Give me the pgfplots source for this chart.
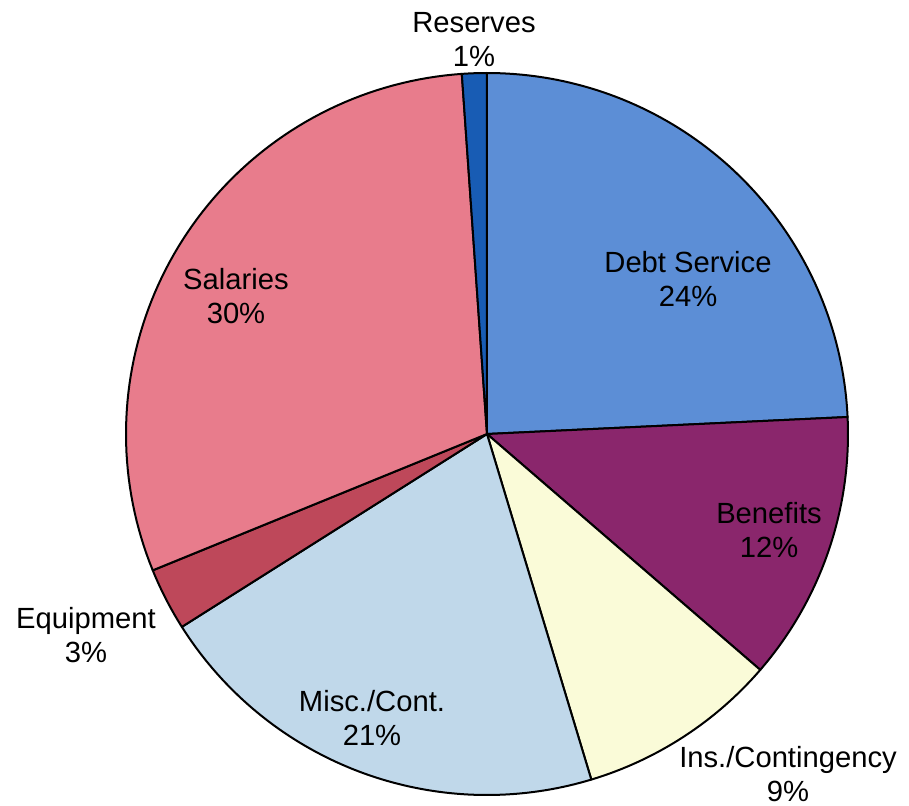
\documentclass[border=0pt]{standalone}
\usepackage{pgfplots}
\pgfplotsset{compat=1.18}
\usepgfplotslibrary{polar}
\usepackage{fontspec}
\setmainfont{Liberation Sans}
\definecolor{cDebt}{RGB}{92,142,214}
\definecolor{cBen}{RGB}{138,38,108}
\definecolor{cIns}{RGB}{250,251,216}
\definecolor{cMisc}{RGB}{192,216,234}
\definecolor{cEquip}{RGB}{190,72,90}
\definecolor{cSal}{RGB}{232,124,140}
\definecolor{cRes}{RGB}{24,92,180}
\begin{document}
\begin{tikzpicture}
\useasboundingbox (-243.5pt,-185.5pt) rectangle (211pt,217.5pt);
\begin{polaraxis}[hide axis, scale only axis, width=361pt, height=361pt,
  ymin=0, ymax=1, at={(0,0.5pt)}, anchor=center, clip=false,
  every axis plot/.append style={draw=black, line width=1pt, line join=round, samples=80}]
% slice boundaries in degrees (counter-clockwise from 3 o'clock)
\addplot[fill=cDebt, domain=2.7:90] {1} -- (axis cs:0,0) -- cycle;
\addplot[fill=cBen, domain=-40.8:2.7] {1} -- (axis cs:0,0) -- cycle;
\addplot[fill=cIns, domain=-73.2:-40.8] {1} -- (axis cs:0,0) -- cycle;
\addplot[fill=cMisc, domain=-147.7:-73.2] {1} -- (axis cs:0,0) -- cycle;
\addplot[fill=cEquip, domain=-157.8:-147.7] {1} -- (axis cs:0,0) -- cycle;
\addplot[fill=cSal, domain=-266:-157.8] {1} -- (axis cs:0,0) -- cycle;
\addplot[fill=cRes, domain=90:94] {1} -- (axis cs:0,0) -- cycle;
\end{polaraxis}
\begin{scope}[every node/.style={align=center, font=\fontsize{14.6}{17}\selectfont, inner sep=0pt}]
\node at (-6.5pt,197.5pt) {Reserves\\1\%};
\node at (100.5pt,78pt) {Debt Service\\24\%};
\node at (141pt,-47.5pt) {Benefits\\12\%};
\node at (150.5pt,-169.5pt) {Ins./Contingency\\9\%};
\node at (-57.5pt,-141.5pt) {Misc./Cont.\\21\%};
\node at (-200.5pt,-100pt) {Equipment\\3\%};
\node at (-125.5pt,69.5pt) {Salaries\\30\%};
\end{scope}
\end{tikzpicture}
\end{document}
